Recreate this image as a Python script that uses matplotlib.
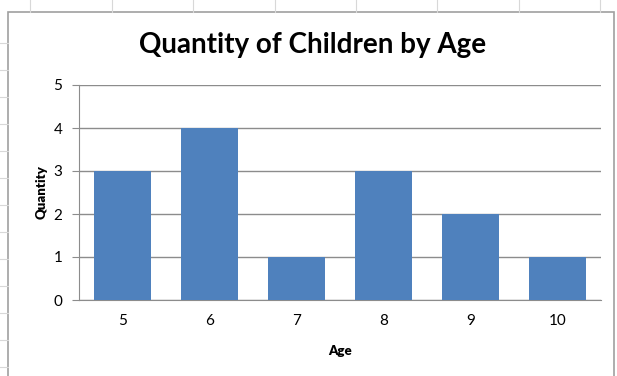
import matplotlib.pyplot as plt
from matplotlib.lines import Line2D
from matplotlib.patches import Rectangle

ages = ['5', '6', '7', '8', '9', '10']
quantity = [3, 4, 1, 3, 2, 1]

bar_color = '#4F81BD'
grid_color = '#8C8C8C'

plt.rcParams['font.family'] = ['Lato', 'DejaVu Sans']

fig = plt.figure(figsize=(6.17, 3.76), dpi=100)
W, H = 617, 376

# spreadsheet cell marks around the chart object
for x in [30, 112, 193, 275, 356, 437, 519, 600]:
    fig.add_artist(Line2D([x / W, x / W], [1, 1 - 12 / H], color='#D8D8D8', lw=0.8))
for y in range(43, 376, 27):
    fig.add_artist(Line2D([0, 8 / W], [1 - y / H, 1 - y / H], color='#D8D8D8', lw=0.8))

# chart frame
fig.add_artist(Rectangle((8 / W, -0.05), (614 - 8) / W, 1.05 - 12 / H,
                         fill=False, edgecolor='#A0A0A0', lw=1.2))

ax = fig.add_axes([79 / W, 1 - 300 / H, (601 - 79) / W, (300 - 85) / H])
x = range(len(ages))
ax.bar(x, quantity, width=0.645, color=bar_color, zorder=3)

ax.set_xlim(-0.5, len(ages) - 0.5)
ax.set_ylim(0, 5)
ax.set_yticks(range(6))
ax.set_xticks(list(x))
ax.set_xticklabels(ages)
ax.yaxis.grid(True, color=grid_color, lw=1.0, zorder=0)

for side in ['top', 'right']:
    ax.spines[side].set_visible(False)
ax.spines['left'].set_color(grid_color)
ax.spines['bottom'].set_color(grid_color)
ax.tick_params(axis='y', length=5, color=grid_color, labelsize=11, pad=7)
ax.tick_params(axis='x', length=0, labelsize=11, pad=10)

ax.set_ylabel('Quantity', fontsize=9.5, fontweight='heavy', labelpad=4)
ax.set_xlabel('Age', fontsize=9.5, fontweight='heavy', labelpad=12)

fig.text(313 / W, 1 - 45 / H, 'Quantity of Children by Age', ha='center', va='center',
         fontsize=20, fontweight='bold')

fig.savefig('out.png', dpi=100)
